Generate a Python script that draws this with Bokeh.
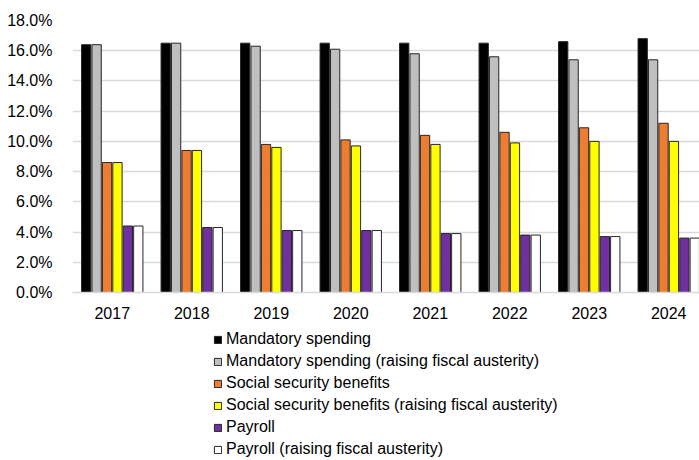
from bokeh.plotting import figure
from bokeh.layouts import column
from bokeh.models import ColumnDataSource, Legend, LegendItem, FixedTicker, PrintfTickFormatter, Range1d
from bokeh.transform import dodge
from bokeh.embed import file_html
from bokeh.resources import INLINE

years = ["2017", "2018", "2019", "2020", "2021", "2022", "2023", "2024"]
mandatory = [16.4, 16.5, 16.5, 16.5, 16.5, 16.5, 16.6, 16.8]
mandatory_aus = [16.4, 16.5, 16.3, 16.1, 15.8, 15.6, 15.4, 15.4]
social = [8.6, 9.4, 9.8, 10.1, 10.4, 10.6, 10.9, 11.2]
social_aus = [8.6, 9.4, 9.6, 9.7, 9.8, 9.9, 10.0, 10.0]
payroll = [4.4, 4.3, 4.1, 4.1, 3.9, 3.8, 3.7, 3.6]
payroll_aus = [4.4, 4.3, 4.1, 4.1, 3.9, 3.8, 3.7, 3.6]

series = [
    ("Mandatory spending", mandatory, "#000000"),
    ("Mandatory spending (raising fiscal austerity)", mandatory_aus, "#BFBFBF"),
    ("Social security benefits", social, "#ED7D31"),
    ("Social security benefits (raising fiscal austerity)", social_aus, "#FFFF00"),
    ("Payroll", payroll, "#7030A0"),
    ("Payroll (raising fiscal austerity)", payroll_aus, "#FFFFFF"),
]

xs = list(range(len(years)))
data = {"x": xs}
for i, (name, vals, col) in enumerate(series):
    data[f"s{i}"] = vals
source = ColumnDataSource(data)

FONT = "Liberation Sans"

p = figure(width=699, height=330, output_backend="svg", toolbar_location=None,
           x_range=Range1d(-0.5, 7.387), y_range=Range1d(0, 18),
           min_border_left=72, min_border_right=0, min_border_top=20, min_border_bottom=38)
p.outline_line_color = None
p.background_fill_color = "white"
p.border_fill_color = "white"

step = 0.131
width = 0.117
for i, (name, vals, col) in enumerate(series):
    p.vbar(x=dodge("x", (i - 2.5) * step, range=p.x_range), top=f"s{i}", width=width,
           source=source, fill_color=col, line_color="#262626", line_width=1)

p.xgrid.grid_line_color = None
p.ygrid.grid_line_color = "#D9D9D9"
p.ygrid.grid_line_width = 1.3
p.yaxis.ticker = FixedTicker(ticks=[0, 2, 4, 6, 8, 10, 12, 14, 16, 18])
p.yaxis.formatter = PrintfTickFormatter(format="%.1f%%")
p.xaxis.ticker = FixedTicker(ticks=xs)
p.xaxis.major_label_overrides = {i: y for i, y in enumerate(years)}
for ax in (p.xaxis[0], p.yaxis[0]):
    ax.major_tick_line_color = None
    ax.minor_tick_line_color = None
    ax.major_label_text_font = FONT
    ax.major_label_text_font_size = "16px"
    ax.major_label_text_color = "#000000"
p.yaxis.axis_line_color = None
p.xaxis.axis_line_color = "#D9D9D9"
p.xaxis.axis_line_width = 1.3
p.yaxis.major_label_standoff = 14
p.xaxis.major_label_standoff = 8

# legend in its own strip below the chart (legend swatches only; the bars sit outside its view)
p2 = figure(width=699, height=130, output_backend="svg", toolbar_location=None,
            x_range=Range1d(-0.5, 7.387), y_range=Range1d(100, 101),
            x_axis_location=None, y_axis_location=None,
            min_border_left=0, min_border_right=0, min_border_top=0, min_border_bottom=0)
p2.outline_line_color = None
p2.grid.visible = False
items = []
for i, (name, vals, col) in enumerate(series):
    r = p2.vbar(x="x", top=f"s{i}", width=width, source=source,
                fill_color=col, line_color="#262626", line_width=1)
    items.append(LegendItem(label=name, renderers=[r]))

legend = Legend(items=items, location=(141, 2), orientation="vertical",
                label_text_font=FONT, label_text_font_size="16px", label_text_color="#000000",
                glyph_width=9, glyph_height=9, label_height=18, spacing=4,
                label_standoff=4, padding=2, margin=0,
                border_line_color=None, background_fill_alpha=0)
p2.add_layout(legend)

layout = column(p, p2, spacing=0)
open("out.html", "w").write(file_html(layout, INLINE))
